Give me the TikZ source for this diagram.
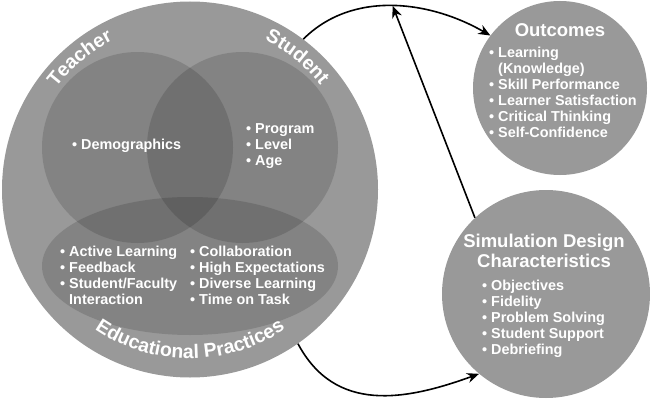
\documentclass[tikz,border=0pt]{standalone}
\usepackage{fontspec}
\setmainfont{Liberation Sans}
\usetikzlibrary{arrows.meta,positioning,shapes.geometric,decorations.text}
\definecolor{disc}{gray}{0.6}
\tikzset{>/.tip={Stealth[length=12pt,width=10pt]}}
\tikzset{disc/.style={circle,fill=disc,inner sep=0pt}}
\tikzset{veil/.style={fill=black,fill opacity=.14,inner sep=0pt}}
\tikzset{items/.style={text=white,align=left,anchor=west,inner sep=0pt,font=\bfseries\fontsize{14.4}{16}\selectfont}}
\tikzset{heading/.style={text=white,align=center,inner sep=0pt,font=\bfseries\fontsize{18.5}{19.5}\selectfont}}
\tikzset{rim/.style={decorate,decoration={text along path,text align=center,text color=white,text={|\bfseries\fontsize{19.5}{19.5}\selectfont|#1}}}}
\newcommand\itm{\textbullet\ }
\begin{document}
\begin{tikzpicture}[x=1pt,y=1pt,on grid]
        \useasboundingbox (0,0) rectangle (650,400);
        \node(big)[disc,minimum size=376pt] at (190,210.5){};
        \node(teach)[veil,circle,minimum size=191pt] at (137.5,252.5){};
        \node(stud)[veil,circle,minimum size=191pt,right=105pt of teach]{};
        \node(edu)[veil,ellipse,minimum width=296pt,minimum height=138pt] at (190,134){};
        \node(out)[disc,minimum size=174pt] at (560,312){};
        \node(sim)[disc,minimum size=208pt] at (546,106){};
        \path[rim=Teacher] (big.center) ++(160:168) arc[start angle=160,end angle=100,radius=168];
        \path[rim=Student] (big.center) ++(81:167) arc[start angle=81,end angle=21,radius=167];
        \path[rim=Educational Practices] (big.center) ++(225:169) arc[start angle=225,end angle=315,radius=169];
        \node(demo)[items] at (72,254){\itm Demographics};
        \node(prog)[items] at (246,254){\itm Program\\\itm Level\\\itm Age};
        \node(pracA)[items] at (60,125){\itm Active Learning\\\itm Feedback\\\itm Student/Faculty\\\phantom{\itm}Interaction};
        \node(pracB)[items] at (190,125){\itm Collaboration\\\itm High Expectations\\\itm Diverse Learning\\\itm Time on Task};
        \node(outT)[heading] at (560,370){Outcomes};
        \node(outL)[items] at (489,307.5){\itm Learning\\\phantom{\itm}(Knowledge)\\\itm Skill Performance\\\itm Learner Satisfaction\\\itm Critical Thinking\\\itm Self-Confidence};
        \node(simT)[heading] at (544,149){Simulation Design\\Characteristics};
        \node(simL)[items] at (482,81){\itm Objectives\\\itm Fidelity\\\itm Problem Solving\\\itm Student Support\\\itm Debriefing};
        \draw[->,line width=1.6pt] (big.53) to[out=45,in=150,looseness=.95] coordinate[pos=.5](apex) (out.143);
        \draw[->,line width=1.6pt] (sim.133) -- (apex);
        \draw[->,line width=1.6pt] (big.-55) to[out=-62,in=200,looseness=1.1] (sim.230);
      \end{tikzpicture}
\end{document}
